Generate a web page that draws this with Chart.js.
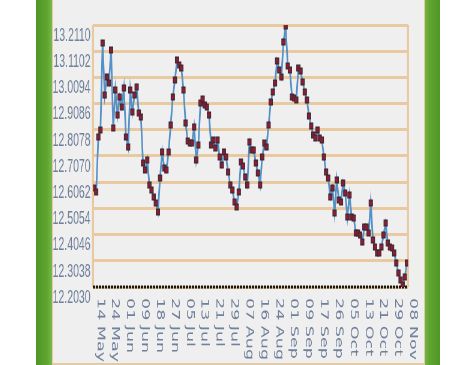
<!DOCTYPE html>
<html>
<head>
<meta charset="utf-8">
<script src="https://cdn.jsdelivr.net/npm/chart.js@4/dist/chart.umd.min.js"></script>
<style>
  html, body { margin: 0; padding: 0; background: #fff; }
  #wrap { position: relative; width: 474px; height: 365px; overflow: hidden; }
  .bar { position: absolute; top: 0; height: 365px; }
  #barL { left: 36px; width: 16px; background: linear-gradient(to right, #4f9626, #5fa530 70%, #7ab94c); }
  #barR { left: 425px; width: 15px; background: linear-gradient(to right, #74b446, #5fa530 30%, #4f9626); }
  #panel { position: absolute; left: 52px; top: 0; width: 371px; height: 363px; background: #efefef;
           border-left: 1px solid #e2caa4; border-right: 1px solid #e2caa4; border-bottom: 2px solid #e2caa4; }
  #chart { position: absolute; left: 52px; top: 0; transform: scaleX(0.6); transform-origin: 0 0; }
</style>
</head>
<body>
<div id="wrap">
  <div class="bar" id="barL"></div>
  <div id="panel"></div>
  <div class="bar" id="barR"></div>
  <canvas id="chart" width="620" height="365"></canvas>
</div>
<script>
// tick labels on the x axis, one every 7 points
const xLabels = ['14 May', '24 May', '01 Jun', '09 Jun', '18 Jun', '27 Jun', '05 Jul', '13 Jul', '21 Jul', '29 Jul',
  '07 Aug', '16 Aug', '24 Aug', '01 Sep', '09 Sep', '17 Sep', '26 Sep', '05 Oct', '13 Oct', '21 Oct', '29 Oct', '08 Nov'];
const labelEvery = 7;

const yTicks = [12.2030, 12.3038, 12.4046, 12.5054, 12.6062, 12.7070, 12.8078, 12.9086, 13.0094, 13.1102, 13.2110];
const yTickLabels = ['12.2030', '12.3038', '12.4046', '12.5054', '12.6062', '12.7070', '12.8078', '12.9086', '13.0094', '13.1102', '13.2110'];

const rates = [
  12.5839, 12.5685, 12.7801, 12.8070, 13.1417, 12.9417, 13.0109, 12.9878, 13.1148, 12.8147,
  12.9609, 12.8647, 12.9340, 12.8955, 12.9686, 12.7801, 12.7416, 12.9609, 12.8763, 12.9417,
  12.9725, 12.8724, 12.8570, 12.6801, 12.6531, 12.6916, 12.5954, 12.5762, 12.5493, 12.5262,
  12.4916, 12.6224, 12.7224, 12.6608, 12.6531, 12.7224,
  12.8263, 12.9340, 12.9994, 13.0763, 13.0571, 13.0456, 12.9609, 12.8340, 12.7647, 12.7570,
  12.7570, 12.8186, 12.6916, 12.7493, 12.9109, 12.9263, 12.9032, 12.8955, 12.8647, 12.7493,
  12.7686, 12.7378, 12.7686, 12.7032, 12.6724, 12.7224, 12.7032, 12.6454, 12.5954, 12.5762,
  12.5300, 12.5108, 12.5685, 12.6839,
  12.6685, 12.6262, 12.5954, 12.7609, 12.7301, 12.7301, 12.6801, 12.6416, 12.5954, 12.7032,
  12.7570, 12.7416, 12.8263, 12.9147, 12.9532, 12.9878, 13.0725, 13.0379, 13.0109, 13.1456,
  13.2072, 13.0533, 13.0379, 12.9340, 12.9301, 12.9224, 13.0456, 13.0340, 12.9917, 12.9532,
  12.9224, 12.8609, 12.8224, 12.7878, 12.7763, 12.8070,
  12.7763, 12.7686, 12.7032, 12.6454, 12.6224, 12.5493, 12.5839, 12.4877, 12.6147, 12.5377,
  12.5300, 12.6031, 12.5647, 12.4723, 12.5570, 12.4723, 12.4685, 12.4108, 12.4108, 12.4031,
  12.3761, 12.4338, 12.4338, 12.4108, 12.5262, 12.3838, 12.3569, 12.3338, 12.3338, 12.3569,
  12.4031, 12.4492, 12.3723, 12.3569, 12.3530, 12.3338, 12.2953, 12.2569, 12.2299, 12.2107,
  12.2415, 12.2953
];

const sx = 0.6;          // canvas is squeezed horizontally by css
const tan = '#e8c9a0';
const labelColor = '#71819b';

// tan side borders, dotted base line and the rotated date labels
const frame = {
  id: 'frame',
  beforeDatasetsDraw(chart) {
    const { ctx, chartArea: a } = chart;
    ctx.save();
    ctx.strokeStyle = tan;
    ctx.lineWidth = 2 / sx;
    ctx.beginPath();
    ctx.moveTo(a.left, a.top); ctx.lineTo(a.left, a.bottom);
    ctx.moveTo(a.right, a.top); ctx.lineTo(a.right, a.bottom);
    ctx.stroke();
    // black dotted base
    ctx.strokeStyle = '#000';
    ctx.lineWidth = 3;
    ctx.setLineDash([2 / sx, 1 / sx]);
    ctx.beginPath();
    ctx.moveTo(a.left, a.bottom); ctx.lineTo(a.right, a.bottom);
    ctx.stroke();
    ctx.restore();
  },
  afterDraw(chart) {
    const { ctx, chartArea: a } = chart;
    const xs = chart.scales.x;
    ctx.save();
    ctx.fillStyle = labelColor;
    ctx.font = '17.5px "DejaVu Sans"';
    ctx.textAlign = 'left';
    ctx.textBaseline = 'middle';
    xLabels.forEach((t, i) => {
      const px = xs.getPixelForValue(i * labelEvery) + 6 / sx;
      ctx.save();
      ctx.translate(px, a.bottom + 11);
      ctx.rotate(Math.PI / 2);
      ctx.fillText(t, 0, 0);
      ctx.restore();
    });
    ctx.restore();
  }
};

new Chart(document.getElementById('chart'), {
  type: 'line',
  data: {
    datasets: [{
      data: rates.map((v, i) => ({ x: i, y: v })),
      borderColor: '#5590c6',
      borderWidth: 2.8,
      tension: 0,
      pointStyle: 'rect',
      pointRadius: 4.1,
      pointBackgroundColor: '#8c1d2e',
      pointBorderColor: '#3a2a3a',
      pointBorderWidth: 1.2
    }]
  },
  options: {
    responsive: false,
    animation: false,
    devicePixelRatio: 1,
    layout: { padding: { left: 0, top: 25, right: 620 - (408 - 52) / sx, bottom: 365 - 287 } },
    plugins: { legend: { display: false }, tooltip: { enabled: false } },
    scales: {
      x: {
        type: 'linear',
        min: -0.5,
        max: rates.length - 0.5,
        ticks: { display: false },
        grid: { display: false },
        border: { display: false },
        afterFit: s => { s.height = 0; }
      },
      y: {
        min: yTicks[0],
        max: yTicks[yTicks.length - 1],
        afterBuildTicks: s => { s.ticks = yTicks.map(v => ({ value: v })); },
        afterFit: s => { s.width = (93 - 52) / sx; },
        grid: { color: tan, lineWidth: 3, drawTicks: false },
        border: { display: false },
        ticks: {
          padding: 4,
          labelOffset: 11,
          color: labelColor,
          font: { family: '"Liberation Sans", Arial', size: 17.5 },
          callback: (v, i) => yTickLabels[i]
        }
      }
    }
  },
  plugins: [frame]
});
</script>
</body>
</html>
